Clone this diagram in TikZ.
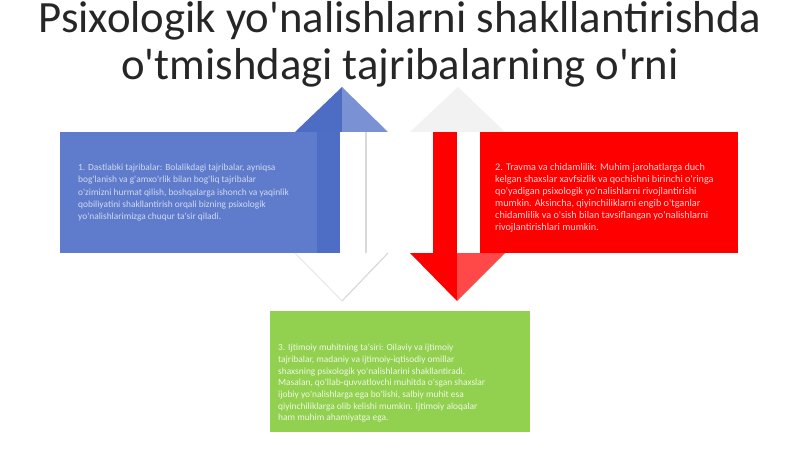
\documentclass[tikz,border=0pt]{standalone}
\usepackage{fontspec}
\setmainfont{Carlito}[Ligatures=TeXOff]
\definecolor{boxblue}{HTML}{5E7CCB}
\definecolor{shaftblue}{HTML}{4E6EC6}
\definecolor{headblueL}{HTML}{4D6DC5}
\definecolor{headblueR}{HTML}{7A92D4}
\definecolor{boxred}{HTML}{FF0000}
\definecolor{headredR}{HTML}{FF4848}
\definecolor{boxgreen}{HTML}{92D050}
\definecolor{ghost}{HTML}{F2F2F2}
\definecolor{ghostedge}{HTML}{D9D9D9}
\definecolor{titlegray}{HTML}{262626}
\definecolor{txtblue}{HTML}{D2DAF2}
\definecolor{txtred}{HTML}{FFD2D2}
\definecolor{txtgreen}{HTML}{EEF8E2}
\tikzset{
  titletext/.style={font=\fontsize{44.7}{47}\selectfont, text=titlegray, inner sep=0pt, anchor=base},
  bodytext/.style={align=left, inner sep=0pt, anchor=north west},
  panel/.style={draw=none, inner sep=0pt}
}
\begin{document}
\begin{tikzpicture}[x=1pt,y=-1pt]
\useasboundingbox (0,0) rectangle (800,449);
\fill[white] (0,0) rectangle (800,449);

% title
\node[titletext] (t1) at (400,33) {Psixologik yo'nalishlarni shakllantirishda};
\node[titletext] (t2) at (400,80) {o'tmishdagi tajribalarning o'rni};

% blue part
\fill[boxblue] (60,132) rectangle (317,253);
\fill[shaftblue] (317,132) rectangle (340,253);
\fill[white] (340,132) rectangle (366,253);
\draw[ghostedge, line width=1.2pt] (366,132) -- (366,253);
\fill[headblueL] (295,132) -- (342,87) -- (342,132) -- cycle;
\fill[headblueR] (342,87) -- (388,132) -- (342,132) -- cycle;
\fill[white] (295,253) -- (342,301) -- (388,253) -- cycle;
\draw[ghostedge!60, line width=1pt] (295,253) -- (342,301);
\draw[ghostedge, line width=1.2pt] (342,301) -- (388,253);
\node[panel, minimum width=280pt, minimum height=121pt, anchor=north west] (bluebox) at (60,132) {};

% red part
\fill[ghost] (410,132) -- (458,87) -- (505,132) -- cycle;
\fill[boxred] (433,132) rectangle (457,253);
\fill[boxred] (480,132) rectangle (738,253);
\fill[boxred] (410,253) -- (457,301) -- (457,253) -- cycle;
\fill[headredR] (457,253) -- (457,301) -- (505,253) -- cycle;
\node[panel, minimum width=258pt, minimum height=121pt, anchor=north west] (redbox) at (480,132) {};

% green part
\fill[boxgreen] (270,311) rectangle (530,432);
\node[panel, minimum width=260pt, minimum height=121pt, anchor=north west] (greenbox) at (270,311) {};

% texts
\node[bodytext, text=txtblue, font=\fontsize{9.4}{12.2}\selectfont] (bt) at (78,164) {1. Dastlabki tajribalar: Bolalikdagi tajribalar, ayniqsa\\
bog'lanish va g'amxo'rlik bilan bog'liq tajribalar\\
o'zimizni hurmat qilish, boshqalarga ishonch va yaqinlik\\
qobiliyatini shakllantirish orqali bizning psixologik\\
yo'nalishlarimizga chuqur ta'sir qiladi.};

\node[bodytext, text=txtred, font=\fontsize{10.2}{12}\selectfont] (rt) at (495,163.5) {2. Travma va chidamlilik: Muhim jarohatlarga duch\\
kelgan shaxslar xavfsizlik va qochishni birinchi o'ringa\\
qo'yadigan psixologik yo'nalishlarni rivojlantirishi\\
mumkin. Aksincha, qiyinchiliklarni engib o'tganlar\\
chidamlilik va o'sish bilan tavsiflangan yo'nalishlarni\\
rivojlantirishlari mumkin.};

\node[bodytext, text=txtgreen, font=\fontsize{9.4}{11.7}\selectfont] (gt) at (278,344) {3. Ijtimoiy muhitning ta'siri: Oilaviy va ijtimoiy\\
tajribalar, madaniy va ijtimoiy-iqtisodiy omillar\\
shaxsning psixologik yo'nalishlarini shakllantiradi.\\
Masalan, qo'llab-quvvatlovchi muhitda o'sgan shaxslar\\
ijobiy yo'nalishlarga ega bo'lishi, salbiy muhit esa\\
qiyinchiliklarga olib kelishi mumkin. Ijtimoiy aloqalar\\
ham muhim ahamiyatga ega.};
\end{tikzpicture}
\end{document}
